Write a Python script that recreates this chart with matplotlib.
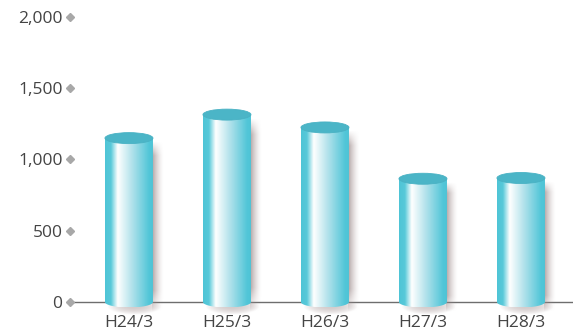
import numpy as np
import matplotlib
matplotlib.use('Agg')
import matplotlib.pyplot as plt
from matplotlib.colors import LinearSegmentedColormap
from matplotlib.patches import Ellipse
from matplotlib.path import Path
import matplotlib.transforms as mtransforms

# データ
categories = ['H24/3', 'H25/3', 'H26/3', 'H27/3', 'H28/3']
values = [1150, 1315, 1225, 865, 870]
yticks = [0, 500, 1000, 1500, 2000]

plt.rcParams['font.family'] = ['Open Sans', 'DejaVu Sans']

W, H = 573, 333
fig = plt.figure(figsize=(W / 100, H / 100), dpi=100)

# 軸の位置 (ピクセル基準)
px_zero, px_top, px_left = 302, 17, 73
ppu = (px_zero - px_top) / 2000.0
ax = fig.add_axes([px_left / W, 0, 1 - px_left / W, (H - px_top) / H])
ax.set_ylim(-(H - px_zero) / ppu, 2000)
ax.set_xlim(-0.571, -0.571 + (W - px_left) / 98.0)
for s in ax.spines.values():
    s.set_visible(False)

ax.set_yticks(yticks)
ax.set_yticklabels(['{:,}'.format(v) for v in yticks])
ax.tick_params(axis='y', length=0, pad=7.5, labelsize=12.5, labelcolor='#444444')
ax.set_xticks([])

# 目盛りの菱形
trans = mtransforms.blended_transform_factory(ax.transAxes, ax.transData)
ax.plot([-0.006] * len(yticks), yticks, 'D', ms=4.5, color='#a8a8a8',
        transform=trans, clip_on=False, zorder=3)

ax.axhline(0, color='#6e6e6e', lw=1, zorder=1)

# 円柱のグラデーション
body_cmap = LinearSegmentedColormap.from_list('body', [
    (0.0, '#4ec4d6'), (0.12, '#58c9d9'), (0.26, '#ffffff'),
    (0.55, '#b2e2eb'), (0.9, '#52c6d8'), (1.0, '#4ec3d5')])
grad = np.linspace(0, 1, 256).reshape(1, -1)

bw = 0.49
eh = 11 / ppu

for i, (cat, v) in enumerate(zip(categories, values)):
    x0, x1 = i - bw / 2, i + bw / 2

    # 影
    sw = 0.11
    nx, ny = 40, 200
    sx = np.linspace(0, 1, nx)
    sy = np.linspace(0, 1, ny)
    a = (1 - sx)[None, :] ** 1.5 * np.clip(sy[:, None] * 8, 0, 1) * np.clip((1 - sy[:, None]) * 12, 0, 1)
    shadow = np.zeros((ny, nx, 4))
    shadow[..., 0] = 0.62
    shadow[..., 1] = 0.55
    shadow[..., 2] = 0.55
    shadow[..., 3] = a * 0.8
    ax.imshow(shadow, extent=(x1 - 0.01, x1 + sw, v - eh * 0.3, -eh * 0.9),
              aspect='auto', origin='upper', zorder=2, interpolation='bilinear')
    bs = np.zeros((20, 60, 4))
    bx = np.linspace(-1, 1, 60)
    by = np.linspace(-1, 1, 20)
    ba = np.clip(1 - (bx[None, :] ** 2 + by[:, None] ** 2), 0, 1)
    bs[..., 0] = 0.62
    bs[..., 1] = 0.55
    bs[..., 2] = 0.55
    bs[..., 3] = ba * 0.45
    ax.imshow(bs, extent=(i - bw * 0.45, x1 + sw * 0.8, -eh * 1.2, eh * 0.3),
              aspect='auto', zorder=2, interpolation='bilinear')

    # 胴体
    t = np.linspace(np.pi, 2 * np.pi, 60)
    verts = [(x0, v)] + [(i + bw / 2 * np.cos(tt), eh / 2 * np.sin(tt)) for tt in t] + [(x1, v), (x0, v)]
    codes = [Path.MOVETO] + [Path.LINETO] * (len(verts) - 2) + [Path.CLOSEPOLY]
    clip = Path(verts, codes)
    im = ax.imshow(grad, cmap=body_cmap, extent=(x0, x1, -eh / 2, v),
                   aspect='auto', zorder=4, interpolation='bilinear')
    im.set_clip_path(clip, transform=ax.transData)

    # 上面
    ax.add_patch(Ellipse((i, v), bw, eh, facecolor='#4bb5c7', edgecolor='#49b2c4',
                         lw=0.6, zorder=5))

    ax.text(i, -(323 - px_zero) / ppu, cat, ha='center', va='center',
            fontsize=12.5, color='#444444')

fig.savefig('out.png', dpi=100)
